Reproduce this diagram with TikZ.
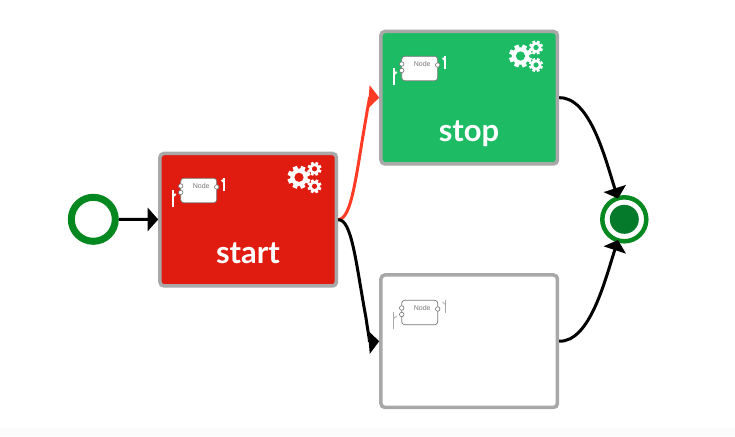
\documentclass[tikz,border=0pt]{standalone}
\usepackage{fontspec}
\setmainfont{Liberation Sans}
\newfontfamily\labelfont{Lato}
\usetikzlibrary{arrows.meta,positioning}
\definecolor{boxred}{HTML}{E01B10}
\definecolor{boxgreen}{HTML}{1DBB63}
\definecolor{boxgray}{HTML}{A8A8A8}
\definecolor{eventgreen}{HTML}{04881F}
\definecolor{endgreen}{HTML}{047A2A}
\definecolor{flowred}{HTML}{FF3B25}
\definecolor{bandgray}{HTML}{FBFBFB}
\definecolor{icongray}{HTML}{777777}
\tikzset{
  taskbox/.style={draw=boxgray,line width=3.5pt,rounded corners=4pt,minimum width=176.5pt,minimum height=132.5pt,inner sep=0pt},
  tasklabel/.style={font=\labelfont\bfseries\fontsize{31}{31}\selectfont,text=white,inner sep=0pt,anchor=base},
  flow/.style={line width=3pt,-{Triangle[length=10.5pt,width=23pt]}},
  stemwhite/.style={draw=white,line width=2pt},
  stemgray/.style={draw=boxgray,line width=0.7pt},
  porticon/.style={circle,draw=icongray,fill=white,line width=0.6pt,minimum size=4.5pt,inner sep=0pt},
  pics/gearwheel/.style n args={3}{code={
    \fill[white] (0,0) circle (#1*0.76);
    \foreach \a in {0,45,...,315}
      \fill[white,rotate=\a+22] (-#1*0.2,#1*0.6) rectangle (#1*0.2,#1);
    \fill[#3] (0,0) circle (#2);
  }},
  pics/gears/.style={code={
    \pic at (0,0) {gearwheel={11.5}{4.6}{#1}};
    \pic at (15.5,-8.5) {gearwheel={7}{2.6}{#1}};
    \pic at (15.5,9) {gearwheel={7}{2.6}{#1}};
  }},
  pics/nodeicon/.style={code={
    \node[draw=icongray,fill=white,line width=0.7pt,rounded corners=3pt,minimum width=36pt,minimum height=24.5pt,inner sep=0pt] (-body) at (0,0) {};
    \node[font=\fontsize{7}{7}\selectfont,text=icongray,inner sep=0pt] (-text) at (2.5,-4.5) {Node};
    \node[porticon] (-in) at (-18,-4.5) {};
    \node[porticon] (-out) at (-18,2) {};
    \node[porticon] (-side) at (18,-3.5) {};
    \draw[#1] (-26,16.5) -- (-26,-0.5);
    \draw[#1] (-26,6) -- (-23,3.5);
    \draw[#1] (25.5,0) -- (25.5,-13);
    \draw[#1] (25.5,-8) -- (23,-10.5);
  }}
}

\begin{document}
\begin{tikzpicture}[x=1pt,y=-1pt]
  \useasboundingbox (0,0) rectangle (735,436);
  \fill[bandgray] (0,428) rectangle (735,436);

  % Events
  \node[circle,draw=eventgreen,fill=white,line width=7pt,minimum size=44pt,inner sep=0pt] (startevent) at (93.3,219.3) {};
  \node[circle,draw=eventgreen,fill=white,line width=4.5pt,minimum size=44pt,inner sep=0pt] (endevent) at (624.3,219.3) {};
  \node[circle,fill=endgreen,minimum size=29pt,inner sep=0pt] (enddot) at (endevent.center) {};

  % Tasks
  \node[taskbox,fill=boxred] (starttask) at (248.2,219.7) {};
  \node[taskbox,fill=boxgreen] (stoptask) at (469.2,97.7) {};
  \node[taskbox,fill=white] (emptytask) at (469.2,341.2) {};
  \node[tasklabel] (startlabel) at (248,263.5) {start};
  \node[tasklabel] (stoplabel) at (469,141.5) {stop};

  % Icons
  \pic (starticon) at (198.7,190.5) {nodeicon=stemwhite};
  \pic (stopicon) at (419.7,68.5) {nodeicon=stemwhite};
  \pic (emptyicon) at (419.7,312.5) {nodeicon=stemgray};
  \pic (startgears) at (299,177.3) {gears=boxred};
  \pic (stopgears) at (520.5,56) {gears=boxgreen};

  % Flows
  \draw[flow,draw=flowred] (starttask.east) .. controls (352,219) and (356,175) .. (366,118) .. controls (368,105) and (370,97) .. (stoptask.west);
  \draw[flow] (starttask.east) .. controls (352,219) and (356,264) .. (366,318) .. controls (368,332) and (370,342) .. (emptytask.west);
  \draw[flow] (startevent) -- (starttask);
  \draw[flow] (stoptask.east) .. controls (590,97) and (605,158) .. (618,198.5);
  \draw[flow] (emptytask.east) .. controls (590,342) and (605,280) .. (618,240);
\end{tikzpicture}
\end{document}
